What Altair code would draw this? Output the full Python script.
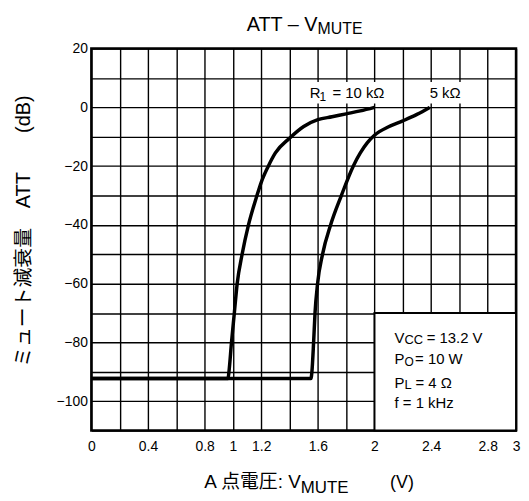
import altair as alt
import pandas as pd

# ---------------- data ----------------
x_10k = [0, 0.965, 0.972, 0.99, 1.01, 1.03, 1.065, 1.11, 1.17, 1.2, 1.25, 1.3, 1.4, 1.5, 1.6, 1.7, 1.8, 1.9, 2.0]
y_10k = [-92.3, -92.3, -90, -80, -70, -60, -50, -40, -30, -25.5, -20, -15.5, -10.5, -6.5, -4.2, -3.2, -2.2, -1.2, 0]
x_5k = [0, 1.551, 1.558, 1.57, 1.58, 1.598, 1.633, 1.69, 1.766, 1.85, 1.9, 1.95, 2.0, 2.1, 2.2, 2.3, 2.39]
y_5k = [-92.3, -92.3, -90, -80, -70, -60, -50, -40, -30, -20, -15.5, -12, -9.5, -6.6, -4.6, -2.4, 0]

x_ticks = [round(0.2 * i, 1) for i in range(16)]
x_tick_labels = [0, 0.4, 0.8, 1, 1.2, 1.6, 2, 2.4, 2.8, 3]
y_ticks = list(range(-110, 21, 10))
y_tick_labels = [20, 0, -20, -40, -60, -80, -100]

# in-plot annotations (data coordinates)
ann_text = ["R", "1", "= 10 kΩ", "5 kΩ",
            "V", "CC", "= 13.2 V",
            "P", "O", "= 10 W",
            "P", "L", "= 4 Ω",
            "f = 1 kHz"]
ann_x = [1.542, 1.612, 1.703, 2.39,
         2.142, 2.212, 2.369,
         2.142, 2.212, 2.287,
         2.142, 2.212, 2.29,
         2.142]
ann_y = [3.1, 2.1, 3.1, 3.1,
         -80.05, -80.6, -80.05,
         -87.4, -87.9, -87.4,
         -95.4, -95.8, -95.4,
         -102.4]
ann_size = [15, 12, 15, 15,
            15, 13, 15,
            15, 12, 15,
            15, 13, 15,
            15]

# white backgrounds behind the curve labels
bg_x = [1.51, 2.37]
bg_x2 = [2.13, 2.66]
bg_y = [1.3, 1.3]
bg_y2 = [8.6, 8.6]

# condition box
box_x, box_x2, box_y, box_y2 = [2.0], [3.0], [-110], [-70]

LAT = "Liberation Sans"
JP = "'Liberation Sans', 'Noto Sans CJK JP'"

# ---------------- chart ----------------
curves = pd.concat([
    pd.DataFrame({"x": x_10k, "y": y_10k, "s": "10k", "o": range(len(x_10k))}),
    pd.DataFrame({"x": x_5k, "y": y_5k, "s": "5k", "o": range(len(x_5k))}),
])

xs = alt.Scale(domain=[0, 3], nice=False, zero=False)
ys = alt.Scale(domain=[-110, 20], nice=False, zero=False)

x_lab = "indexof(" + str(x_tick_labels) + ", datum.value) >= 0 ? format(datum.value, '~g') : ''"
y_lab = "indexof(" + str(y_tick_labels) + ", datum.value) >= 0 ? format(datum.value, '~g') : ''"

x_axis = alt.Axis(values=x_ticks, tickCount=100, labelExpr=x_lab, title=None, labelPadding=9,
                  labelFlush=False, labelOverlap=False)
y_axis = alt.Axis(values=y_ticks, tickCount=100, labelExpr=y_lab, title=None, labelPadding=4,
                  labelOverlap=False)

X = alt.X("x:Q", scale=xs, axis=x_axis)
Y = alt.Y("y:Q", scale=ys, axis=y_axis)

lines = alt.Chart(curves).mark_line(color="black", strokeWidth=3.5, interpolate="monotone",
                                    clip=True).encode(
    x=X, y=Y, detail="s:N", order="o:Q",
)

bg = alt.Chart(pd.DataFrame({"x": bg_x, "x2": bg_x2, "y": bg_y, "y2": bg_y2})).mark_rect(
    fill="white").encode(x=X, x2="x2", y=Y, y2="y2")

box = alt.Chart(pd.DataFrame({"x": box_x, "x2": box_x2, "y": box_y, "y2": box_y2})).mark_rect(
    fill="white", stroke="black", strokeWidth=2).encode(x=X, x2="x2", y=Y, y2="y2")

ann = alt.Chart(pd.DataFrame({"t": ann_text, "x": ann_x, "y": ann_y, "fs": ann_size})).mark_text(
    align="left", baseline="alphabetic", font=LAT, color="black").encode(
    x=X, y=Y, text="t:N",
    size=alt.Size("fs:Q", scale=None, legend=None))

one = pd.DataFrame({"k": [0]})


def ptext(txt, x, y, size, align="left", angle=0, font=LAT, baseline="alphabetic"):
    return alt.Chart(one).mark_text(text=txt, align=align, baseline=baseline, fontSize=size,
                                    font=font, angle=angle, color="black").encode(
        x=alt.value(x), y=alt.value(y))


titles = [
    ptext("ATT – V", 228, -18, 20, align="right"),
    ptext("MUTE", 228, -15, 16),
    ptext("A 点電圧: V", 211, 443, 19, align="right", font=JP),
    ptext("MUTE", 211, 448, 17),
    ptext("(V)", 301, 443, 18),
    ptext("ミュート減衰量　ATT　　(dB)", -68, 184, 20, align="center", angle=270, font=JP,
          baseline="middle"),
]

chart = alt.layer(bg, box, lines, ann, *titles).properties(
    width=428, height=385,
    autosize=alt.AutoSizeParams(type="none"),
    padding={"left": 84, "top": 39, "right": 5, "bottom": 66},
).configure_view(stroke="black", strokeWidth=2.5).configure_axis(
    domain=False, ticks=False, grid=True, gridColor="black", gridWidth=1.4, gridOpacity=1,
    labelFont=LAT, labelFontSize=14, labelColor="black",
)

chart.save("out.html", embed_options={"renderer": "svg", "actions": False})
